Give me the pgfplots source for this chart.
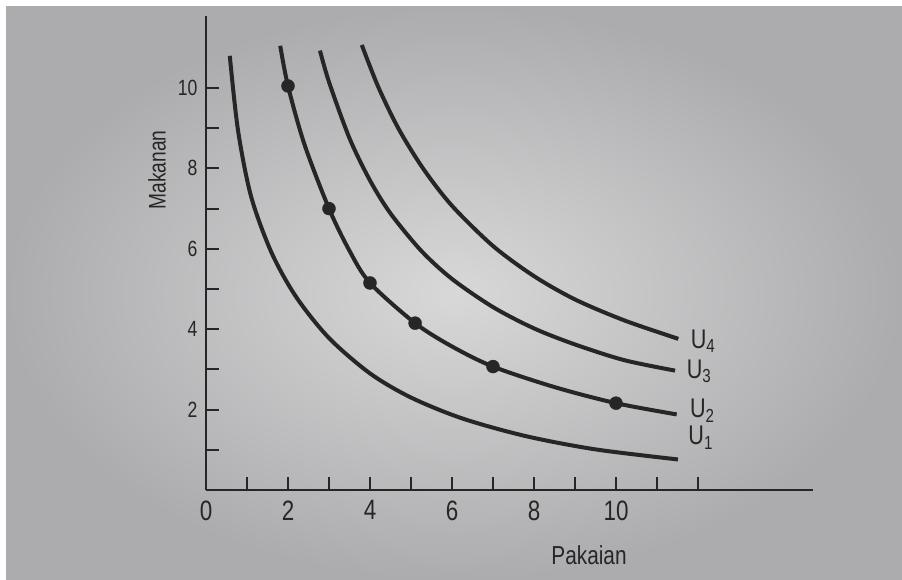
\documentclass[border=0pt]{standalone}
\usepackage{fontspec}
\setmainfont{Liberation Sans}[FakeStretch=0.8]
\usepackage{pgfplots}
\pgfplotsset{compat=1.18}
\definecolor{ink}{RGB}{38,38,38}
\definecolor{paperin}{RGB}{216,216,217}
\definecolor{paperout}{RGB}{172,172,174}
\begin{document}
\begin{tikzpicture}
\useasboundingbox (0pt,0pt) rectangle (902pt,580pt);
\fill[white] (0pt,0pt) rectangle (902pt,580pt);
\shade[inner color=paperin, outer color=paperout] (6pt,0pt) rectangle (902pt,573pt);
\begin{axis}[
  at={(206pt,90pt)}, anchor=south west,
  scale only axis, x=41pt, y=40.2pt,
  xmin=0, xmax=14.8, ymin=0, ymax=11.8,
  axis lines=left,
  axis line style={ink, line width=2.2pt, -},
  tick align=inside, major tick length=13pt,
  tick style={ink, line width=2pt},
  xtick={0,...,12}, xticklabels={0,,2,,4,,6,,8,,10,,},
  ytick={1,...,10}, yticklabels={,2,,4,,6,,8,,10},
  xticklabel style={font=\fontsize{28}{32}\selectfont, text=ink, yshift=-7pt},
  yticklabel style={font=\fontsize{22}{26}\selectfont, text=ink, xshift=-5pt},
  clip=false,
]
% U1
\addplot[ink, line width=4pt, smooth] coordinates {
(0.58,10.8) (0.78,8.95) (1.1,7.3) (1.6,5.9) (2.2,4.8) (3.0,3.78) (4.0,2.9)
(5.0,2.3) (6.25,1.78) (7.8,1.34) (9.5,1.01) (11.51,0.76)};
% U2
\addplot[ink, line width=4pt, smooth] coordinates {
(1.81,11.05) (2,10.05) (2.4,8.6) (3,7.0) (3.5,5.95) (4,5.15) (5.1,4.15)
(6,3.57) (7,3.07) (8.5,2.56) (10,2.16) (11.48,1.88)};
% U3
\addplot[ink, line width=4pt, smooth] coordinates {
(2.78,10.93) (3.0,10.15) (3.5,8.75) (4.0,7.70) (4.5,6.88) (5.25,5.95) (6,5.25)
(7,4.55) (8,4.02) (9,3.62) (10.2,3.23) (11.44,2.97)};
% U4
\addplot[ink, line width=4pt, smooth] coordinates {
(3.8,11.07) (4.2,10.03) (4.7,8.98) (5.3,7.99) (6,7.07) (7,6.07) (8,5.32)
(9,4.74) (10.2,4.22) (11.52,3.76)};
% points on U2
\addplot[only marks, mark=*, mark size=6.5pt, ink] coordinates {
(2,10.05) (3,7.0) (4,5.15) (5.1,4.15) (7,3.07) (10,2.16)};
\node[anchor=west, font=\fontsize{27}{30}\selectfont, text=ink] at (axis cs:11.74,3.70) {U\textsubscript{4}};
\node[anchor=west, font=\fontsize{27}{30}\selectfont, text=ink] at (axis cs:11.64,2.95) {U\textsubscript{3}};
\node[anchor=west, font=\fontsize{27}{30}\selectfont, text=ink] at (axis cs:11.72,1.98) {U\textsubscript{2}};
\node[anchor=west, font=\fontsize{27}{30}\selectfont, text=ink] at (axis cs:11.68,1.30) {U\textsubscript{1}};
\end{axis}
\node[rotate=90, font=\fontsize{24}{28}\selectfont, text=ink] at (157pt,410pt) {Makanan};
\node[font=\fontsize{26}{30}\selectfont, text=ink] at (589pt,25pt) {Pakaian};
\end{tikzpicture}
\end{document}
